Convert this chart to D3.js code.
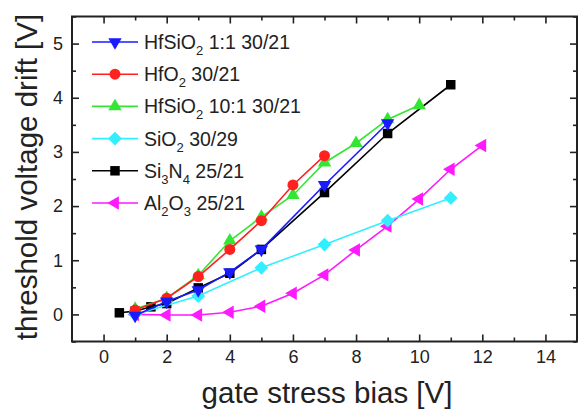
<!DOCTYPE html>
<html>
<head>
<meta charset="utf-8">
<script src="https://cdn.jsdelivr.net/npm/d3@7"></script>
<style>
  body { margin: 0; background: #fff; }
  svg text { font-family: "Liberation Sans", Arial, sans-serif; fill: #222; }
</style>
</head>
<body>
<div id="chart"></div>
<script>
// chart size
let width = 584;
let height = 410;
let margin = ({top: 16.5, right: 5, bottom: 68.5, left: 72});

// series values
let hfsio11X = [1, 2, 3, 4, 5, 7, 9];
let hfsio11Y = [-0.02, 0.24, 0.45, 0.78, 1.2, 2.39, 3.53];

let hfo2X = [1, 2, 3, 4, 5, 6, 7];
let hfo2Y = [0.08, 0.3, 0.7, 1.2, 1.73, 2.39, 2.93];

let hfsio101X = [1, 2, 3, 4, 5, 6, 7, 8, 9, 10];
let hfsio101Y = [0.1, 0.3, 0.72, 1.36, 1.8, 2.2, 2.8, 3.16, 3.6, 3.86];

let sio2X = [1, 3, 5, 7, 9, 11];
let sio2Y = [0.0, 0.34, 0.86, 1.29, 1.73, 2.15];

let si3n4X = [0.5, 1, 1.5, 2, 3, 4, 5, 7, 9, 11];
let si3n4Y = [0.03, 0.06, 0.14, 0.2, 0.49, 0.76, 1.2, 2.25, 3.34, 4.24];

let al2o3X = [1, 2, 3, 4, 5, 6, 7, 8, 9, 10, 11, 12];
let al2o3Y = [0, -0.01, -0.01, 0.04, 0.15, 0.39, 0.73, 1.19, 1.63, 2.13, 2.68, 3.12];

// tick labels
let xTicks = [0, 2, 4, 6, 8, 10, 12, 14];
let yTicks = [0, 1, 2, 3, 4, 5];

let series = [
    {name: ["HfSiO", "2", " 1:1 30/21"], color: "#1a1aff", shape: "tri", rot: 180, xs: hfsio11X, ys: hfsio11Y},
    {name: ["HfO", "2", " 30/21"], color: "#ff2020", shape: "circle", rot: 0, xs: hfo2X, ys: hfo2Y},
    {name: ["HfSiO", "2", " 10:1 30/21"], color: "#33e633", shape: "tri", rot: 0, xs: hfsio101X, ys: hfsio101Y},
    {name: ["SiO", "2", " 30/29"], color: "#33eeff", shape: "diamond", rot: 45, xs: sio2X, ys: sio2Y},
    {name: ["Si", "3", "N", "4", " 25/21"], color: "#000000", shape: "square", rot: 0, xs: si3n4X, ys: si3n4Y},
    {name: ["Al", "2", "O", "3", " 25/21"], color: "#ff19ff", shape: "tri", rot: -90, xs: al2o3X, ys: al2o3Y}
];

let svg = d3.select("#chart")
    .append("svg")
    .attr("width", width)
    .attr("height", height)

let xScale = d3.scaleLinear()
    .domain([-1, 15])
    .range([margin.left, width - margin.right - 2])

let yScale = d3.scaleLinear()
    .domain([-0.5, 5.5])
    .range([height - margin.bottom, margin.top])

let x0 = xScale.range()[0], x1 = xScale.range()[1];
let y0 = yScale.range()[0], y1 = yScale.range()[1];

// axes with inward ticks, minor ones in between
let xMinor = d3.range(0, 15, 1).filter(v => v % 2 != 0);
let yMinor = d3.range(-0.5, 5.51, 0.5).filter(v => Math.abs(v % 1) > 0.1);

function tickAxis(axisFn, scale, values, size, fmt) {
    return axisFn(scale).tickValues(values).tickSize(size).tickSizeOuter(0)
        .tickPadding(9).tickFormat(fmt)
}

svg.append("g")
    .attr("transform", "translate(0," + y0 + ")")
    .call(tickAxis(d3.axisBottom, xScale, xTicks, -7, d3.format("d")))
svg.append("g")
    .attr("transform", "translate(0," + y0 + ")")
    .call(tickAxis(d3.axisBottom, xScale, xMinor, -4, ""))
svg.append("g")
    .attr("transform", "translate(0," + y1 + ")")
    .call(tickAxis(d3.axisTop, xScale, xTicks, -7, ""))
svg.append("g")
    .attr("transform", "translate(0," + y1 + ")")
    .call(tickAxis(d3.axisTop, xScale, xMinor, -4, ""))

svg.append("g")
    .attr("transform", "translate(" + x0 + ",0)")
    .call(tickAxis(d3.axisLeft, yScale, yTicks, -7, d3.format("d")))
svg.append("g")
    .attr("transform", "translate(" + x0 + ",0)")
    .call(tickAxis(d3.axisLeft, yScale, yMinor, -4, ""))
svg.append("g")
    .attr("transform", "translate(" + x1 + ",0)")
    .call(tickAxis(d3.axisRight, yScale, yTicks, -7, ""))
svg.append("g")
    .attr("transform", "translate(" + x1 + ",0)")
    .call(tickAxis(d3.axisRight, yScale, yMinor, -4, ""))

svg.selectAll(".domain").remove()
svg.selectAll(".tick line").attr("stroke", "#222").attr("stroke-width", 1.6)
svg.selectAll(".tick text").style("font-size", "18px")

// frame
svg.append("rect")
    .attr("x", x0)
    .attr("y", y1)
    .attr("width", x1 - x0)
    .attr("height", y0 - y1)
    .attr("fill", "none")
    .attr("stroke", "#222")
    .attr("stroke-width", 2)

function symbolPath(shape) {
    if (shape == "tri") return d3.symbol().type(d3.symbolTriangle).size(78)()
    if (shape == "circle") return d3.symbol().type(d3.symbolCircle).size(95)()
    if (shape == "diamond") return d3.symbol().type(d3.symbolSquare).size(95)()
    return d3.symbol().type(d3.symbolSquare).size(90)()
}

let line = d3.line()
    .x(d => xScale(d[0]))
    .y(d => yScale(d[1]))

// draw series from last to first so blue stays on top
series.slice().reverse().forEach(s => {
    let pts = s.xs.map((v, i) => [v, s.ys[i]])
    svg.append("path")
        .datum(pts)
        .attr("d", line)
        .attr("fill", "none")
        .attr("stroke", s.color)
        .attr("stroke-width", 1.6)

    svg.selectAll(null)
        .data(pts)
        .enter()
        .append("path")
        .attr("d", symbolPath(s.shape))
        .attr("transform", d => "translate(" + xScale(d[0]) + "," + yScale(d[1]) + ") rotate(" + s.rot + ")")
        .attr("fill", s.color)
})

// legend
let legend = svg.append("g")
series.forEach((s, i) => {
    let ly = 42 + i * 32.2
    legend.append("line")
        .attr("x1", 92).attr("x2", 138)
        .attr("y1", ly).attr("y2", ly)
        .attr("stroke", s.color)
        .attr("stroke-width", 1.6)
    legend.append("path")
        .attr("d", symbolPath(s.shape))
        .attr("transform", "translate(115," + ly + ") rotate(" + s.rot + ")")
        .attr("fill", s.color)
    let txt = legend.append("text")
        .attr("x", 144)
        .attr("y", ly + 7)
        .style("font-size", "19.5px")
    s.name.forEach((part, j) => {
        let sub = j % 2 == 1 && part.length == 1
        txt.append("tspan")
            .attr("dy", sub ? 6 : (j > 0 ? -6 : 0))
            .style("font-size", sub ? "13px" : "19.5px")
            .text(part)
    })
})

// axis titles
svg.append("text")
    .attr("x", 327)
    .attr("y", 403)
    .attr("text-anchor", "middle")
    .style("font-size", "29.5px")
    .text("gate stress bias [V]")

svg.append("text")
    .attr("transform", "translate(37,177) rotate(-90)")
    .attr("text-anchor", "middle")
    .style("font-size", "29.5px")
    .text("threshold voltage drift [V]")
</script>
</body>
</html>
